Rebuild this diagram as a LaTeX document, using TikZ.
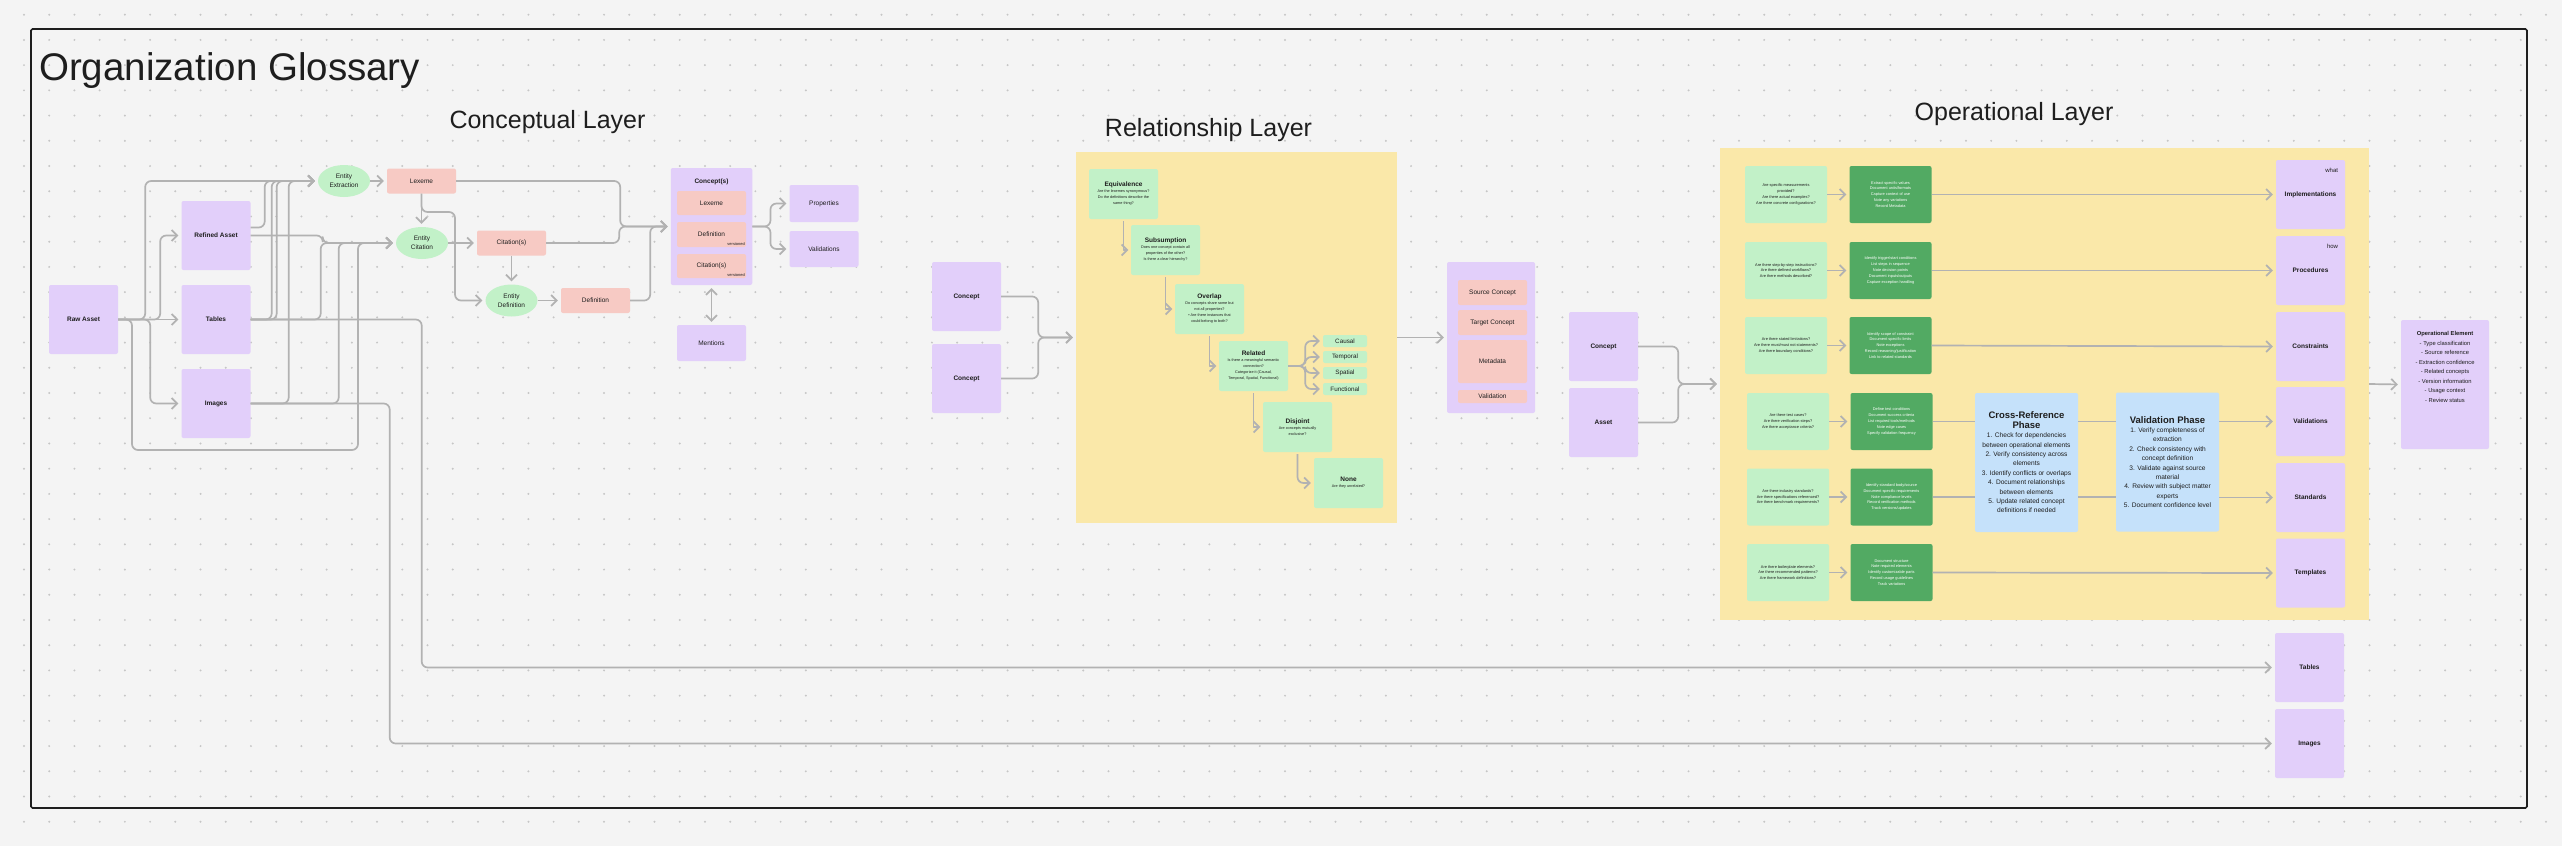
\documentclass[tikz,border=0pt]{standalone}
\usepackage{fontspec}
\setmainfont{Liberation Sans}
\usetikzlibrary{arrows.meta,shapes.geometric}

\definecolor{canvas}{HTML}{F4F4F4}
\definecolor{dotgray}{HTML}{C6C6C6}
\definecolor{lilac}{HTML}{E2CFFA}
\definecolor{salmon}{HTML}{F7CAC4}
\definecolor{mint}{HTML}{C2F1C8}
\definecolor{leaf}{HTML}{52AA63}
\definecolor{sand}{HTML}{FAE8A9}
\definecolor{sky}{HTML}{C5E1FA}
\definecolor{wire}{HTML}{B2B2B2}
\definecolor{ink}{HTML}{1E1E1E}

\newcommand{\relhead}[1]{{\bfseries\fontsize{6.5}{8}\selectfont #1}}
\newcommand{\phasehead}[1]{{\bfseries\fontsize{9.5}{13}\selectfont #1}}

\begin{document}
\begin{tikzpicture}[x=1pt, y=-1pt, >={Straight Barb[length=5.5pt,width=11pt]},
	card/.style = {rounded corners=2pt, inner sep=0pt, align=center, text=ink},
	asset/.style = {card, fill=lilac, minimum width=69, minimum height=69, font=\bfseries\fontsize{6.5}{8}\selectfont},
	soft/.style = {asset, font=\fontsize{6.5}{8}\selectfont},
	term/.style = {card, fill=salmon, minimum width=69, minimum height=25, font=\fontsize{6.5}{8}\selectfont},
	oval/.style = {ellipse, fill=mint, inner sep=0pt, align=center, text=ink, minimum width=52, minimum height=32, font=\fontsize{6.5}{9.3}\selectfont},
	relq/.style = {card, fill=mint, minimum width=69, minimum height=50, font=\fontsize{3.8}{6}\selectfont},
	kind/.style = {card, fill=mint, minimum width=44, minimum height=12, font=\fontsize{6.3}{8}\selectfont},
	ask/.style = {card, fill=mint, minimum width=82, minimum height=57, font=\fontsize{3.9}{5.8}\selectfont},
	act/.style = {card, fill=leaf, text=white, minimum width=82, minimum height=57, font=\fontsize{3.9}{5.9}\selectfont},
	phase/.style = {card, fill=sky, minimum width=103, minimum height=139, font=\fontsize{6.6}{9.4}\selectfont},
	region/.style = {fill=sand, inner sep=0pt},
	layer/.style = {text=ink, anchor=base, inner sep=0pt, font=\fontsize{25}{30}\selectfont},
	note/.style = {text=ink, anchor=north east, inner sep=0pt, xshift=-7pt, yshift=-8.5pt, font=\fontsize{6}{7}\selectfont},
	vers/.style = {text=ink, anchor=south east, inner sep=1.2pt, font=\fontsize{4}{5}\selectfont},
	conn/.style = {draw=wire, line width=1.7pt, rounded corners=6pt, line join=round, ->, shorten >=3pt},
	link/.style = {draw=wire, line width=1.7pt}]

	\useasboundingbox (0,0) rectangle (2562,846);
	\fill[canvas] (0,0) rectangle (2562,846);
	\foreach \r in {0,...,32}
		\draw[dotgray, line width=2.2pt, line cap=round, dash pattern=on 0pt off 25.22pt] (24,{14.7+25.22*\r}) -- (2562,{14.7+25.22*\r});

	\node[text=ink, anchor=base west, inner sep=0pt, font=\fontsize{38.5}{40}\selectfont] (title) at (39,80) {Organization Glossary};
	\node[layer] (concl) at (547.5,128) {Conceptual Layer};
	\node[layer] (rell) at (1208.5,136) {Relationship Layer};
	\node[layer] (opl) at (2014,120) {Operational Layer};

	\node[region, minimum width=321, minimum height=371] (relbox) at (1236.5,337.5) {};
	\node[region, minimum width=649, minimum height=472] (opbox) at (2044.5,384) {};

	\node[asset] (raw) at (83.5,319.5) {Raw Asset};
	\node[asset] (refined) at (216,235.5) {Refined Asset};
	\node[asset] (tabl) at (216,319.5) {Tables};
	\node[asset] (imgl) at (216,403.5) {Images};
	\node[oval] (ee) at (344,181) {Entity\\Extraction};
	\node[term] (lex) at (421.5,181) {Lexeme};
	\node[oval] (ec) at (422,243) {Entity\\Citation};
	\node[term] (cit) at (511.5,243) {Citation(s)};
	\node[oval] (ed) at (511.5,300.5) {Entity\\Definition};
	\node[term] (def) at (595.5,300.5) {Definition};
	\node[card, fill=lilac, minimum width=81.5, minimum height=117, label={[text=ink, anchor=north, yshift=-7pt, font=\bfseries\fontsize{6.5}{8}\selectfont]north:Concept(s)}] (cons) at (711.5,226.5) {};
	\node[term, minimum height=24] (clex) at (711.5,203) {Lexeme};
	\node[term, label={[vers]south east:versioned}] (cdef) at (711.5,234.5) {Definition};
	\node[term, minimum height=24, label={[vers]south east:versioned}] (ccit) at (711.5,266) {Citation(s)};
	\node[soft, minimum height=37] (prop) at (824,203.5) {Properties};
	\node[soft, minimum height=36] (valc) at (824,249) {Validations};
	\node[soft, minimum height=36] (ment) at (711.5,343) {Mentions};

	\node[asset] (rc1) at (966.5,296.5) {Concept};
	\node[asset] (rc2) at (966.5,378.5) {Concept};
	\node[relq] (equ) at (1123.5,194) {\relhead{Equivalence}\\Are the lexemes synonymous?\\Do the definitions describe the\\same thing?};
	\node[relq] (sub) at (1165.5,250) {\relhead{Subsumption}\\Does one concept contain all\\properties of the other?\\Is there a clear hierarchy?};
	\node[relq] (ovl) at (1209.5,309) {\relhead{Overlap}\\Do concepts share some but\\not all properties?\\• Are there instances that\\could belong to both?};
	\node[relq] (rel) at (1253.5,366) {\relhead{Related}\\Is there a meaningful semantic\\connection?\\Categorize it (Causal,\\Temporal, Spatial, Functional)};
	\node[relq] (dis) at (1297.5,427) {\relhead{Disjoint}\\Are concepts mutually\\exclusive?};
	\node[relq] (non) at (1348.5,483) {\relhead{None}\\Are they unrelated?};
	\node[kind] (cau) at (1345,341) {Causal};
	\node[kind] (tem) at (1345,357) {Temporal};
	\node[kind] (spa) at (1345,373) {Spatial};
	\node[kind] (fun) at (1345,389) {Functional};
	\node[card, fill=lilac, minimum width=88, minimum height=151] (pair) at (1491,337.5) {};
	\node[term] (srcc) at (1492.5,292.5) {Source Concept};
	\node[term] (tgtc) at (1492.5,322.5) {Target Concept};
	\node[term, minimum height=43] (meta) at (1492.5,361.5) {Metadata};
	\node[term, minimum height=13] (vald) at (1492.5,396.5) {Validation};
	\node[asset] (oc) at (1603.5,346.5) {Concept};
	\node[asset] (oa) at (1603.5,422.5) {Asset};

	\node[ask] (q1) at (1786,194.5) {Are specific measurements\\provided?\\Are there actual examples?\\Are there concrete configurations?};
	\node[act] (a1) at (1890.5,194.5) {Extract specific values\\Document units/formats\\Capture context of use\\Note any variations\\Record Metadata};
	\node[ask] (q2) at (1786,270.5) {Are there step-by-step instructions?\\Are there defined workflows?\\Are there methods described?};
	\node[act] (a2) at (1890.5,270.5) {Identify trigger/start conditions\\List steps in sequence\\Note decision points\\Document inputs/outputs\\Capture exception handling};
	\node[ask] (q3) at (1786,345.5) {Are there stated limitations?\\Are there must/must not statements?\\Are there boundary conditions?};
	\node[act] (a3) at (1890.5,345.5) {Identify scope of constraint\\Document specific limits\\Note exceptions\\Record reasoning/justification\\Link to related standards};
	\node[ask] (q4) at (1788,421.5) {Are there test cases?\\Are there verification steps?\\Are there acceptance criteria?};
	\node[act] (a4) at (1891.5,421.5) {Define test conditions\\Document success criteria\\List required tools/methods\\Note edge cases\\Specify validation frequency};
	\node[ask] (q5) at (1788,497) {Are there industry standards?\\Are there specifications referenced?\\Are there benchmark requirements?};
	\node[act] (a5) at (1891.5,497) {Identify standard body/source\\Document specific requirements\\Note compliance levels\\Record verification methods\\Track versions/updates};
	\node[ask] (q6) at (1788,572.5) {Are there boilerplate elements?\\Are there recommended patterns?\\Are there framework definitions?};
	\node[act] (a6) at (1891.5,572.5) {Document structure\\Note required elements\\Identify customizable parts\\Record usage guidelines\\Track variations};
	\node[phase] (xref) at (2026.5,462.5) {\phasehead{Cross-Reference}\\\phasehead{Phase}\\1. Check for dependencies\\between operational elements\\2. Verify consistency across\\elements\\3. Identify conflicts or overlaps\\4. Document relationships\\between elements\\5. Update related concept\\definitions if needed};
	\node[phase] (vph) at (2167.5,462) {\phasehead{Validation Phase}\\1. Verify completeness of\\extraction\\2. Check consistency with\\concept definition\\3. Validate against source\\material\\4. Review with subject matter\\experts\\5. Document confidence level};
	\node[asset, label={[note]north east:what}] (impl) at (2310.5,194.5) {Implementations};
	\node[asset, label={[note]north east:how}] (proc) at (2310.5,270.5) {Procedures};
	\node[asset] (cstr) at (2310.5,346.5) {Constraints};
	\node[asset] (vals) at (2310.5,421.5) {Validations};
	\node[asset] (stds) at (2310.5,497.5) {Standards};
	\node[asset] (tmpl) at (2310.5,573) {Templates};
	\node[card, fill=lilac, minimum width=88, minimum height=129, label={[text=ink, anchor=north, align=center, yshift=-8pt, font=\fontsize{5.8}{9.5}\selectfont]north:{\bfseries Operational Element}\\- Type classification\\- Source reference\\- Extraction confidence\\- Related concepts\\- Version information\\- Usage context\\- Review status}] (oe) at (2445,384.5) {};
	\node[asset] (tabr) at (2309.5,667.5) {Tables};
	\node[asset] (imgr) at (2309.5,743.5) {Images};

	\draw[conn] (raw.east) -- ++(27,0) |- (ee.west);
	\draw[conn] (raw.east) -- ++(42,0) |- (refined.west);
	\draw[conn] (raw.east) -- (tabl.west);
	\draw[conn] (raw.east) -- ++(32,0) |- (imgl.west);
	\draw[conn] (raw.east) -| (132,450) -| (358,243) -- (ec.west);
	\draw[conn] ([yshift=8pt]refined.east) -- ++(14,0) |- (ee.west);
	\draw[conn] (refined.east) -- ++(72,0) |- (ec.west);
	\draw[conn] (tabl.east) -- ++(21,0) |- (ee.west);
	\draw[conn] (tabl.east) -- ++(26,0) |- (ee.west);
	\draw[conn] (tabl.east) -- ++(70,0) |- (ec.west);
	\draw[conn] (tabl.east) -- ++(171,0) |- (tabr.west);
	\draw[conn] (imgl.east) -- ++(38,0) |- (ee.west);
	\draw[conn] (imgl.east) -- ++(88,0) |- (ec.west);
	\draw[conn] (imgl.east) -- ++(139,0) |- (imgr.west);
	\draw[conn] (ee.east) -- (lex.west);
	\draw[conn] (lex.south) -- (lex.south |- ec.north);
	\draw[conn] (lex.south) |- (455,212) |- (ed.west);
	\draw[conn] (ec.east) -- (cit.west);
	\draw[conn] (cit.south) -- (ed.north);
	\draw[conn] (ed.east) -- (def.west);
	\draw[conn] (lex.east) -- ++(164,0) |- (cons.west);
	\draw[conn] (cit.east) -- ++(73,0) |- (cons.west);
	\draw[conn] (def.east) -- ++(20,0) |- (cons.west);
	\draw[conn] (cons.east) -- ++(18,0) |- (prop.west);
	\draw[conn] (cons.east) -- ++(18,0) |- (valc.west);
	\draw[conn, <->, shorten <=3pt] (cons.south) -- (ment.north);

	\draw[conn] (rc1.east) -- ++(37,0) |- (relbox.west);
	\draw[conn] (rc2.east) -- ++(37,0) |- (relbox.west);
	\draw[conn, sharp corners, shorten <=2pt, shorten >=2.5pt] (equ.south) |- (sub.west);
	\draw[conn, sharp corners, shorten <=2pt, shorten >=2.5pt] (sub.south) |- (ovl.west);
	\draw[conn, sharp corners, shorten <=2pt, shorten >=2.5pt] (ovl.south) |- (rel.west);
	\draw[conn, sharp corners, shorten <=2pt, shorten >=2.5pt] (rel.south) |- (dis.west);
	\draw[conn, shorten <=2pt] (dis.south) |- (non.west);
	\draw[conn] (rel.east) -- ++(17,0) |- (cau.west);
	\draw[conn] (rel.east) -- ++(17,0) |- (tem.west);
	\draw[conn] (rel.east) -- ++(17,0) |- (spa.west);
	\draw[conn] (rel.east) -- ++(17,0) |- (fun.west);
	\draw[conn] (relbox.east) -- (pair.west);
	\draw[conn] (oc.east) -- ++(40,0) |- (opbox.west);
	\draw[conn] (oa.east) -- ++(40,0) |- (opbox.west);

	\draw[conn] (q1.east) -- (a1.west);
	\draw[conn] (q2.east) -- (a2.west);
	\draw[conn] (q3.east) -- (a3.west);
	\draw[conn] (q4.east) -- (a4.west);
	\draw[conn] (q5.east) -- (a5.west);
	\draw[conn] (q6.east) -- (a6.west);
	\draw[conn] (a1.east) -- (impl.west);
	\draw[conn] (a2.east) -- (proc.west);
	\draw[conn] (a3.east) -- (cstr.west);
	\draw[conn] (a6.east) -- (tmpl.west);
	\draw[link] (a4.east) -- (a4.east -| xref.west);
	\draw[link] (a5.east) -- (a5.east -| xref.west);
	\draw[link] (a4.east -| xref.east) -- (a4.east -| vph.west);
	\draw[link] (a5.east -| xref.east) -- (a5.east -| vph.west);
	\draw[conn] (vals.west -| vph.east) -- (vals.west);
	\draw[conn] (stds.west -| vph.east) -- (stds.west);
	\draw[conn] (opbox.east) -- (oe.west);

	\draw[ink, line width=1.6pt, rounded corners=1.5pt] (31,29) rectangle (2527,808);
\end{tikzpicture}
\end{document}
